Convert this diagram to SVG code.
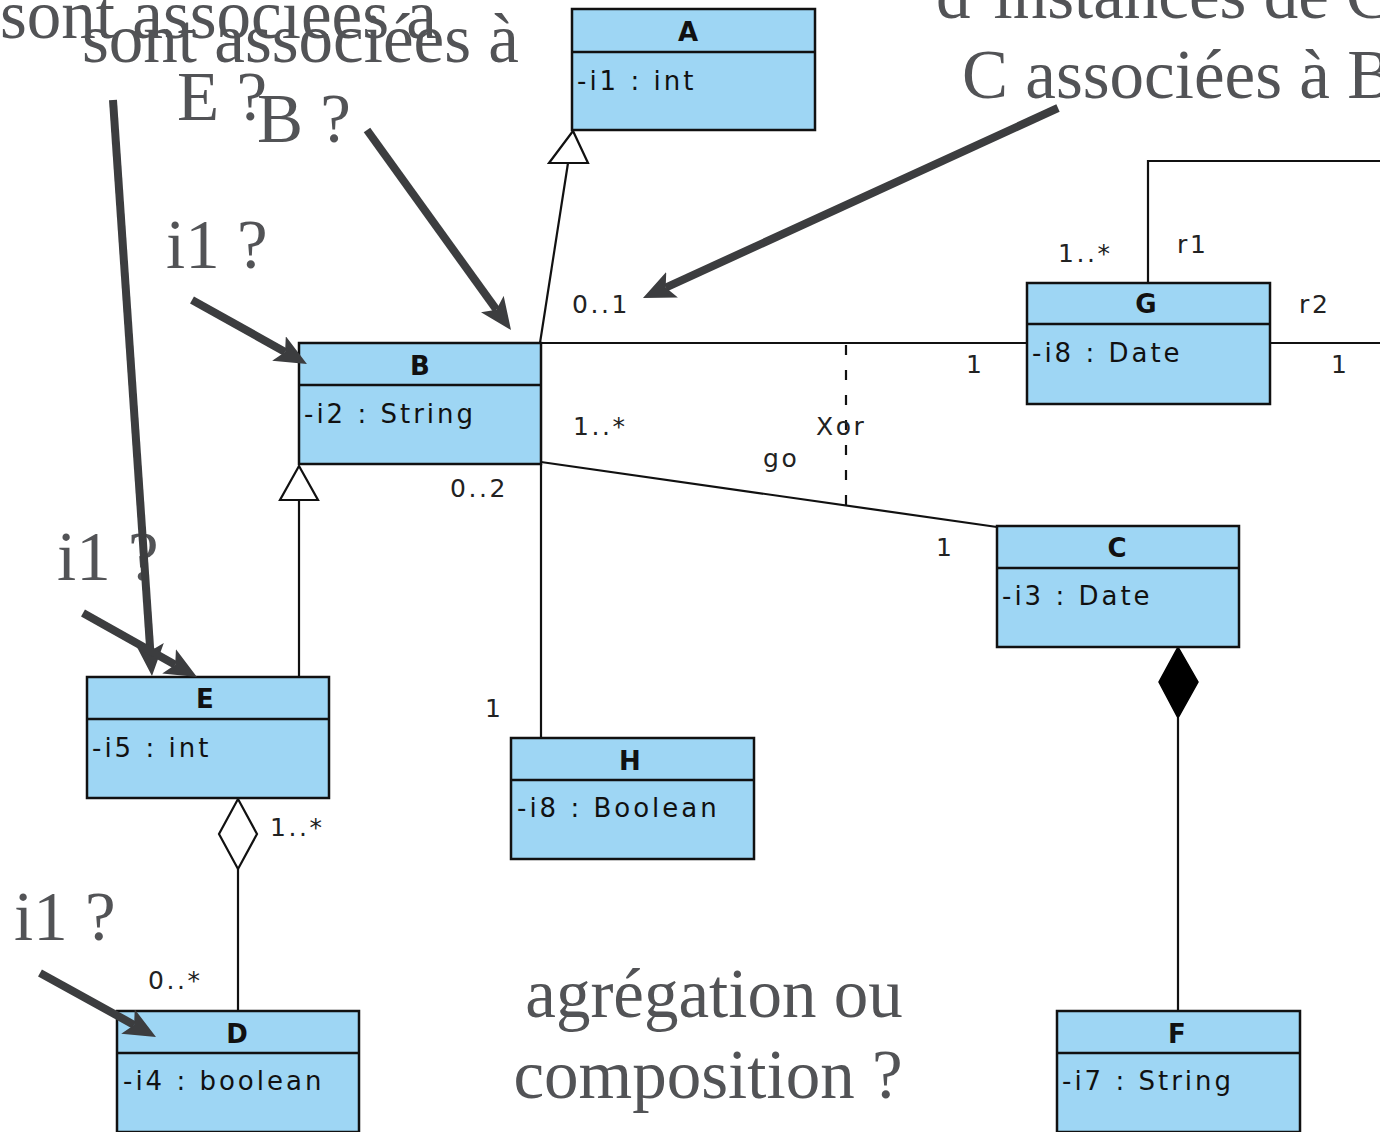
<svg xmlns="http://www.w3.org/2000/svg" width="1380" height="1132" viewBox="0 0 1380 1132">
<style>
.box{fill:#9ed6f4;stroke:#111;stroke-width:2.5}
.div{stroke:#111;stroke-width:2.5}
.name{font-family:"DejaVu Sans",sans-serif;font-size:26px;font-weight:bold;fill:#111;text-anchor:middle}
.attr{font-family:"DejaVu Sans",sans-serif;font-size:26px;fill:#111;letter-spacing:3px}
.lbl{font-family:"DejaVu Sans",sans-serif;font-size:25px;fill:#222;letter-spacing:2.6px}
.ln{fill:none;stroke:#111;stroke-width:2.2}
.note{font-family:"Liberation Serif","DejaVu Serif",serif;font-size:69px;fill:#525356}
.arr{fill:none;stroke:#3c3d3f;stroke-width:8;marker-end:url(#ah)}
</style>
<defs>
<marker id="ah" markerUnits="userSpaceOnUse" markerWidth="32" markerHeight="28" viewBox="0 0 32 28" refX="7" refY="14" orient="auto">
<path d="M0,0 L32,14 L0,28 L7,14 z" fill="#3c3d3f"/>
</marker>
</defs>
<rect width="1380" height="1132" fill="#fff"/>

<g id="connectors">
<line class="ln" x1="540" y1="343" x2="568" y2="163"/>
<polygon points="573,131 549,163 588,163" fill="#fff" stroke="#111" stroke-width="2.2"/>
<line class="ln" x1="541" y1="343" x2="1027" y2="343"/>
<line class="ln" x1="1270" y1="343" x2="1380" y2="343"/>
<polyline class="ln" points="1148,283 1148,161 1380,161"/>
<line class="ln" x1="541" y1="462" x2="997" y2="527"/>
<line class="ln" x1="846" y1="345" x2="846" y2="505" stroke-dasharray="10 15"/>
<line class="ln" x1="541" y1="464" x2="541" y2="738"/>
<line class="ln" x1="299" y1="500" x2="299" y2="677"/>
<polygon points="299,466 280,500 318,500" fill="#fff" stroke="#111" stroke-width="2.2"/>
<polygon points="238,799 257,834 238,869 219,834" fill="#fff" stroke="#111" stroke-width="2.2"/>
<line class="ln" x1="238" y1="869" x2="238" y2="1011"/>
<polygon points="1178,647 1198,682 1178,718 1159,682" fill="#000" stroke="#000" stroke-width="1.5"/>
<line class="ln" x1="1178" y1="718" x2="1178" y2="1011"/>
<text class="lbl" x="572" y="313">0..1</text>
<text class="lbl" x="573" y="435">1..*</text>
<text class="lbl" x="450" y="497">0..2</text>
<text class="lbl" x="816" y="435">Xor</text>
<text class="lbl" x="763" y="467">go</text>
<text class="lbl" x="966" y="373">1</text>
<text class="lbl" x="1058" y="262">1..*</text>
<text class="lbl" x="1177" y="253">r1</text>
<text class="lbl" x="1299" y="313">r2</text>
<text class="lbl" x="1331" y="373">1</text>
<text class="lbl" x="936" y="556">1</text>
<text class="lbl" x="485" y="717">1</text>
<text class="lbl" x="270" y="836">1..*</text>
<text class="lbl" x="148" y="989">0..*</text>
</g>

<g id="A">
<rect class="box" x="572" y="9" width="243" height="121"/>
<line class="div" x1="572" y1="52" x2="815" y2="52"/>
<text class="name" x="688" y="41">A</text>
<text class="attr" x="577" y="90">-i1 : int</text>
</g>
<g id="B">
<rect class="box" x="299" y="343" width="242" height="121"/>
<line class="div" x1="299" y1="385" x2="541" y2="385"/>
<text class="name" x="420" y="375">B</text>
<text class="attr" x="304" y="423">-i2 : String</text>
</g>
<g id="G">
<rect class="box" x="1027" y="283" width="243" height="121"/>
<line class="div" x1="1027" y1="324" x2="1270" y2="324"/>
<text class="name" x="1146" y="313">G</text>
<text class="attr" x="1032" y="362">-i8 : Date</text>
</g>
<g id="C">
<rect class="box" x="997" y="526" width="242" height="121"/>
<line class="div" x1="997" y1="568" x2="1239" y2="568"/>
<text class="name" x="1117" y="557">C</text>
<text class="attr" x="1002" y="605">-i3 : Date</text>
</g>
<g id="E">
<rect class="box" x="87" y="677" width="242" height="121"/>
<line class="div" x1="87" y1="719" x2="329" y2="719"/>
<text class="name" x="205" y="708">E</text>
<text class="attr" x="92" y="757">-i5 : int</text>
</g>
<g id="H">
<rect class="box" x="511" y="738" width="243" height="121"/>
<line class="div" x1="511" y1="780" x2="754" y2="780"/>
<text class="name" x="630" y="770">H</text>
<text class="attr" x="517" y="817">-i8 : Boolean</text>
</g>
<g id="D">
<rect class="box" x="117" y="1011" width="242" height="121"/>
<line class="div" x1="117" y1="1053" x2="359" y2="1053"/>
<text class="name" x="237" y="1043">D</text>
<text class="attr" x="123" y="1090">-i4 : boolean</text>
</g>
<g id="F">
<rect class="box" x="1057" y="1011" width="243" height="121"/>
<line class="div" x1="1057" y1="1053" x2="1300" y2="1053"/>
<text class="name" x="1177" y="1043">F</text>
<text class="attr" x="1062" y="1090">-i7 : String</text>
</g>

<g id="annotations">
<text class="note" x="0" y="38">sont associées à</text>
<text class="note" x="82" y="62">sont associées à</text>
<text class="note" x="177" y="120">E ?</text>
<text class="note" x="257" y="142">B ?</text>
<text class="note" x="936" y="18">d’instances de C</text>
<text class="note" x="962" y="98">C associées à B</text>
<text class="note" x="166" y="268">i1 ?</text>
<text class="note" x="57" y="580">i1 ?</text>
<text class="note" x="14" y="940">i1 ?</text>
<text class="note" x="714" y="1017" text-anchor="middle">agrégation ou</text>
<text class="note" x="708" y="1098" text-anchor="middle">composition ?</text>
<line class="arr" x1="113" y1="100" x2="150.3" y2="651"/>
<line class="arr" x1="83" y1="613" x2="175.2" y2="664.8"/>
<line class="arr" x1="367" y1="130" x2="496.4" y2="309.7"/>
<line class="arr" x1="192" y1="300" x2="285.1" y2="351.9"/>
<line class="arr" x1="1058" y1="108" x2="665.7" y2="287.6"/>
<line class="arr" x1="40" y1="973" x2="134.1" y2="1024.9"/>
</g>
</svg>
